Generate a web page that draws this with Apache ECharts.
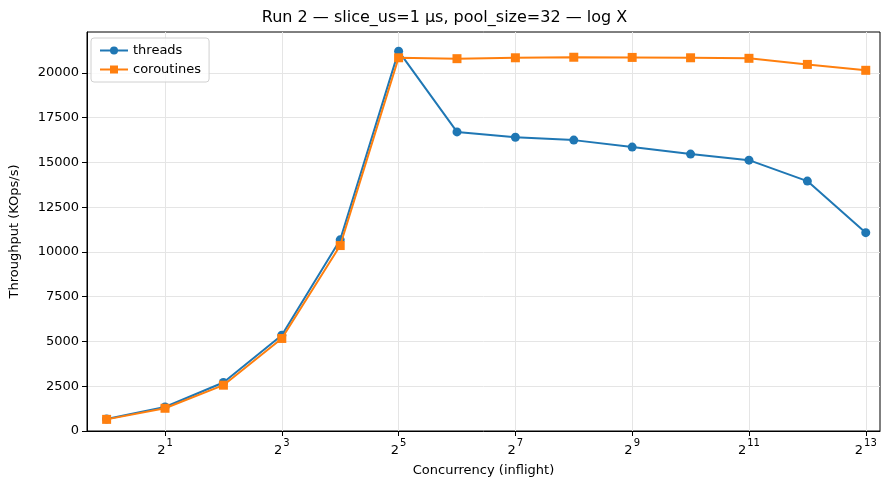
<!DOCTYPE html>
<html>
<head>
    <meta charset="utf-8">
    <title>Run 2</title>
    <script src="https://cdn.jsdelivr.net/npm/echarts@6/dist/echarts.min.js"></script>
    <style>
        html, body { margin: 0; padding: 0; background: #fff; }
        #main { width: 889px; height: 489px; }
    </style>
</head>
<body>
<div id="main"></div>
<script type="text/javascript">
    // concurrency levels (inflight), plotted on a log2 x axis
    var concurrency = [1, 2, 4, 8, 16, 32, 64, 128, 256, 512, 1024, 2048, 4096, 8192];
    var threads = [670, 1340, 2710, 5350, 10680, 21220, 16710, 16410, 16250, 15860, 15470, 15130, 13960, 11080];
    var coroutines = [650, 1270, 2560, 5170, 10360, 20850, 20800, 20850, 20880, 20870, 20850, 20820, 20480, 20150];
    var xTickPowers = [1, 3, 5, 7, 9, 11, 13];
    var yTicks = [0, 2500, 5000, 7500, 10000, 12500, 15000, 17500, 20000];

    function pairs(vals) {
        var out = [];
        for (var i = 0; i < concurrency.length; i++) {
            out.push([Math.log2(concurrency[i]), vals[i]]);
        }
        return out;
    }

    var font = 'DejaVu Sans';
    var chart = echarts.init(document.getElementById('main'));
    var option = {
        animation: false,
        textStyle: { fontFamily: font },
        title: {
            text: 'Run 2 — slice_us=1 µs, pool_size=32 — log X',
            left: 'center',
            top: 5,
            textStyle: { fontFamily: font, fontSize: 16, fontWeight: 'normal', color: '#000' }
        },
        legend: {
            orient: 'vertical',
            left: 91,
            top: 38,
            padding: [6, 8, 6, 8],
            itemGap: 6,
            itemWidth: 28,
            itemHeight: 10,
            borderColor: '#d0d0d0',
            borderWidth: 1,
            borderRadius: 3,
            backgroundColor: 'rgba(255,255,255,0.8)',
            textStyle: { fontFamily: font, fontSize: 13, color: '#000' },
            data: ['threads', 'coroutines']
        },
        grid: {
            left: 83, right: 9, top: 32, bottom: 58,
            show: true, borderColor: '#000', borderWidth: 1
        },
        xAxis: {
            type: 'value',
            min: -0.336,
            max: 13.244,
            name: 'Concurrency (inflight)',
            nameLocation: 'middle',
            nameGap: 33,
            nameTextStyle: { fontFamily: font, fontSize: 13, color: '#000' },
            axisLine: { show: true, onZero: false, lineStyle: { color: '#000' } },
            axisTick: { show: true, length: 5, customValues: xTickPowers, lineStyle: { color: '#000' } },
            axisLabel: {
                customValues: xTickPowers,
                margin: 7,
                color: '#000',
                formatter: function (v) { return '{b|2}{s|' + v + '}'; },
                rich: {
                    b: { fontFamily: font, fontSize: 13, color: '#000', verticalAlign: 'bottom', lineHeight: 19 },
                    s: { fontFamily: font, fontSize: 10, color: '#000', verticalAlign: 'top', lineHeight: 19, padding: [0, 0, 8, 1] }
                }
            },
            splitLine: { show: true, lineStyle: { color: '#e5e5e5', width: 1 } }
        },
        yAxis: {
            type: 'value',
            min: 0,
            max: 22290,
            interval: 2500,
            name: 'Throughput (KOps/s)',
            nameLocation: 'middle',
            nameGap: 66,
            nameTextStyle: { fontFamily: font, fontSize: 13, color: '#000' },
            axisLine: { show: true, onZero: false, lineStyle: { color: '#000' } },
            axisTick: { show: true, length: 5, customValues: yTicks, lineStyle: { color: '#000' } },
            axisLabel: {
                customValues: yTicks,
                fontFamily: font, fontSize: 13, color: '#000', margin: 8,
                formatter: function (v) { return String(v); }
            },
            splitLine: { show: true, lineStyle: { color: '#e5e5e5', width: 1 } }
        },
        series: [
            {
                name: 'threads',
                type: 'line',
                data: pairs(threads),
                symbol: 'circle',
                symbolSize: 9,
                color: '#1f77b4',
                lineStyle: { width: 2, color: '#1f77b4' },
                itemStyle: { color: '#1f77b4' },
                z: 2
            },
            {
                name: 'coroutines',
                type: 'line',
                data: pairs(coroutines),
                symbol: 'rect',
                symbolSize: 9,
                color: '#ff7f0e',
                lineStyle: { width: 2, color: '#ff7f0e' },
                itemStyle: { color: '#ff7f0e' },
                z: 3
            }
        ]
    };
    chart.setOption(option);
</script>
</body>
</html>
